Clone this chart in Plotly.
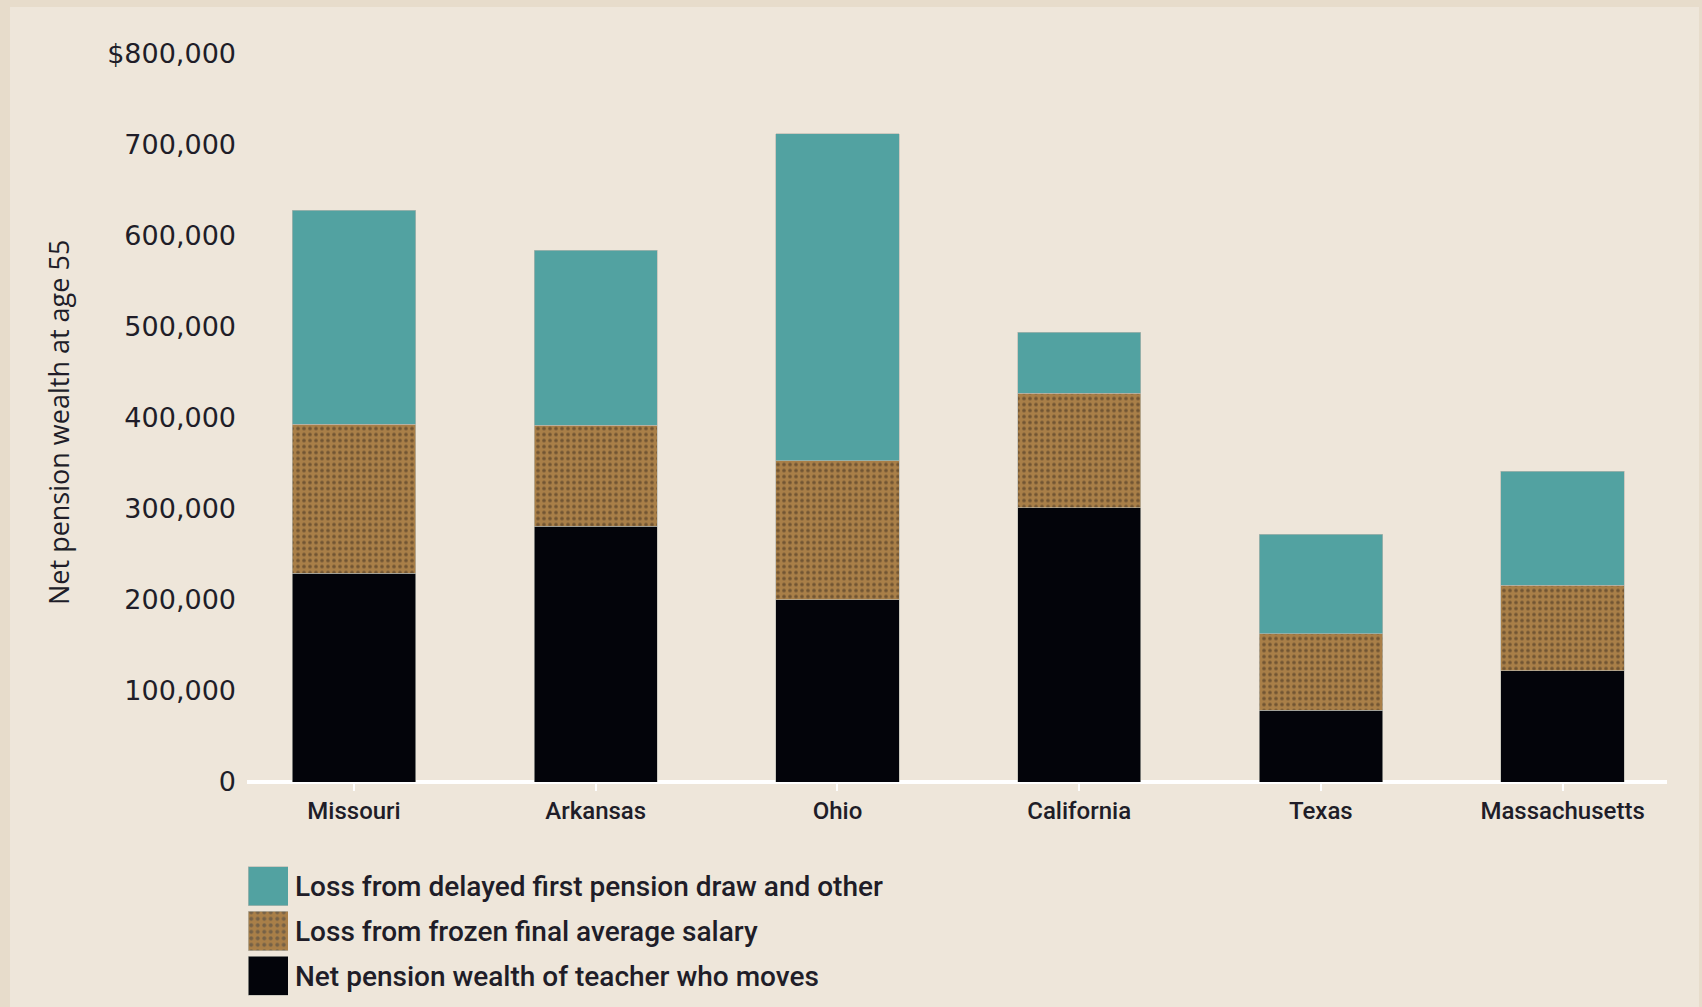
import plotly.graph_objects as go

# Net pension wealth at age 55, by state (USD)
states = ["Missouri", "Arkansas", "Ohio", "California", "Texas", "Massachusetts"]
net_wealth_mover = [229000, 281000, 200000, 301000, 79000, 122000]
loss_frozen_salary = [164000, 111000, 153000, 126000, 84000, 94000]
loss_delayed_draw = [235000, 192000, 359000, 67000, 109000, 125000]

series_names = [
    "Loss from delayed first pension draw and other",
    "Loss from frozen final average salary",
    "Net pension wealth of teacher who moves",
]

y_tickvals = [0, 100000, 200000, 300000, 400000, 500000, 600000, 700000, 800000]
y_ticktext = ["0", "100,000", "200,000", "300,000", "400,000",
              "500,000", "600,000", "700,000", "$800,000"]

W, H = 1702, 1007
TEAL = "#52A2A1"
BROWN = "#A97F48"
DOTS = "#3A2C1E"
BLACK = "#03040A"
BG = "#EEE6DA"
FRAME = "#E7DCCB"
INK = "#201D28"
EDGE = "rgba(185,185,175,0.8)"


def px_x(p):
    return p / W


def px_y(p):
    return (H - p) / H


fig = go.Figure()

bar_w = 0.51
dot_pattern = dict(shape=".", size=6, solidity=0.3, fgcolor=DOTS)

fig.add_trace(go.Bar(
    x=states, y=net_wealth_mover, name=series_names[2], width=bar_w,
    marker=dict(color=BLACK, line=dict(color=EDGE, width=0.8)),
    showlegend=False,
))
fig.add_trace(go.Bar(
    x=states, y=loss_frozen_salary, name=series_names[1], width=bar_w,
    marker=dict(color=BROWN, line=dict(color=EDGE, width=0.8),
                pattern=dot_pattern),
    showlegend=False,
))
fig.add_trace(go.Bar(
    x=states, y=loss_delayed_draw, name=series_names[0], width=bar_w,
    marker=dict(color=TEAL, line=dict(color=EDGE, width=0.8)),
    showlegend=False,
))

# Legend key: one swatch per series on a small auxiliary axis pair
fig.add_trace(go.Bar(
    y=series_names, x=[1, 1, 1], orientation="h", width=0.87,
    xaxis="x2", yaxis="y2", showlegend=False, hoverinfo="skip",
    marker=dict(color=[TEAL, BROWN, BLACK], line=dict(color=EDGE, width=0.8),
                pattern=dict(shape=["", ".", ""], size=6.5, solidity=0.3,
                             fgcolor=DOTS)),
))

fig.update_layout(
    width=W, height=H,
    margin=dict(l=0, r=0, t=0, b=0, autoexpand=False),
    paper_bgcolor=FRAME,
    plot_bgcolor="rgba(0,0,0,0)",
    barmode="stack",
    font=dict(family="Roboto", color=INK),
    xaxis=dict(
        domain=[px_x(247), px_x(1667)],
        range=[-0.4427, 5.432], automargin=False,
        showgrid=False, zeroline=False, showline=False,
        ticks="outside", ticklen=8, tickwidth=2, tickcolor="white",
        tickfont=dict(family="Roboto", size=24, weight=500, color=INK),
        ticklabelstandoff=-1,
    ),
    yaxis=dict(
        domain=[px_y(782), px_y(53.5)],
        range=[0, 800000], automargin=False,
        showgrid=False, showline=False,
        zeroline=True, zerolinecolor="white", zerolinewidth=4,
        tickvals=y_tickvals, ticktext=y_ticktext, ticks="",
        tickfont=dict(family="DejaVu Sans", size=27, color=INK),
        ticklabelstandoff=10,
    ),
    xaxis2=dict(
        domain=[px_x(248), px_x(288)], range=[0, 1], anchor="y2",
        visible=False, fixedrange=True, automargin=False,
    ),
    yaxis2=dict(
        domain=[px_y(998.4), px_y(863.6)], range=[-0.5, 2.5], anchor="x2",
        side="right", showgrid=False, zeroline=False, showline=False,
        ticks="", autorange="reversed", automargin=False,
        categoryorder="array", categoryarray=series_names,
        tickfont=dict(family="Roboto", size=28, weight=500, color=INK),
        ticklabelstandoff=6, fixedrange=True,
    ),
    shapes=[dict(
        type="rect", xref="paper", yref="paper", layer="below",
        x0=px_x(10), x1=px_x(1699), y0=0, y1=px_y(7),
        fillcolor=BG, line=dict(width=0),
    )],
    annotations=[dict(
        text="Net pension wealth at age 55", textangle=-90,
        xref="paper", yref="paper", x=px_x(59), y=px_y(423),
        xanchor="center", yanchor="middle", showarrow=False,
        font=dict(family="Open Sans", size=27, weight=500, color=INK),
    )],
)

fig.write_html("out.html")
